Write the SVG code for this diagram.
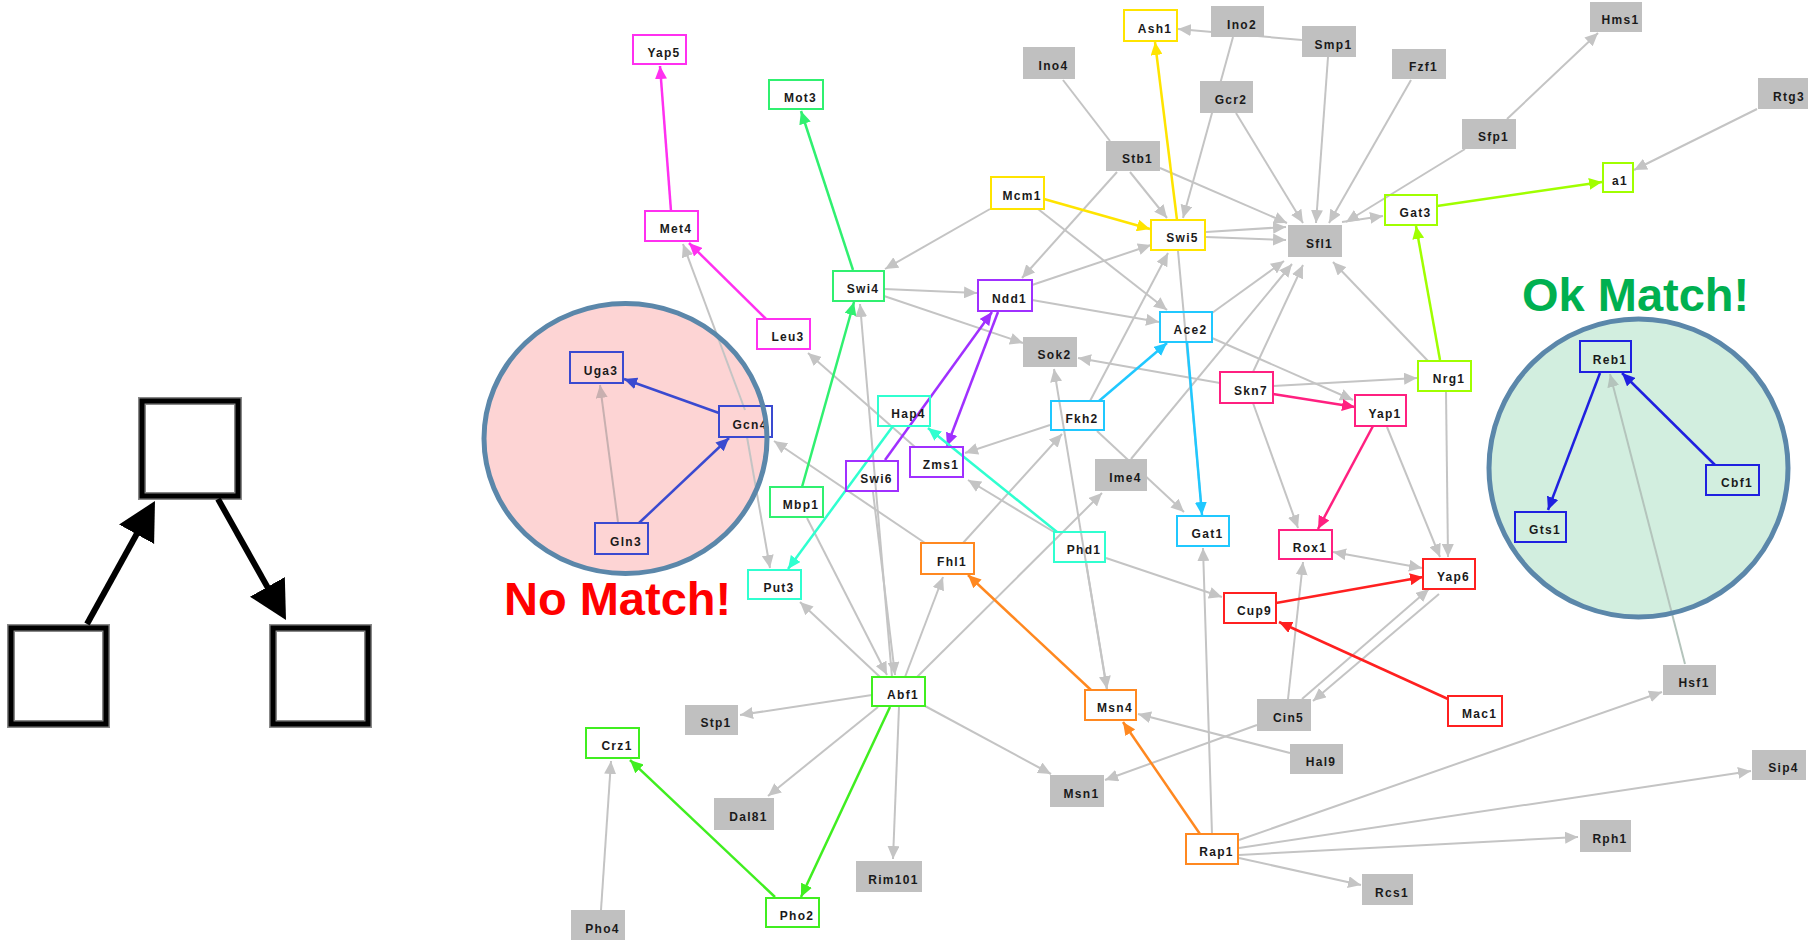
<svg xmlns="http://www.w3.org/2000/svg" width="1808" height="940" viewBox="0 0 1808 940">
<style>
.n rect{fill:none;stroke-width:2}
.g rect{fill:#c0c0c0;stroke:none}
.t{font-family:"Liberation Sans",Arial,sans-serif;font-weight:bold;font-size:12px;letter-spacing:1.3px;fill:#1a1a1a;text-anchor:middle}
.mag rect{stroke:#ff30f0}.grn rect{stroke:#30f070}.grn2 rect{stroke:#40ee20}.lim rect{stroke:#a0ff00}
.yel rect{stroke:#ffe400}.pur rect{stroke:#a030ff}.cya rect{stroke:#20c8ff}.tur rect{stroke:#30ffd0}
.pnk rect{stroke:#ff2080}.red rect{stroke:#ff2020}.ora rect{stroke:#ff8820}.bl1 rect{stroke:#3a4ad0}.bl2 rect{stroke:#2020e0}
#connectors line{fill:none}
.e{stroke:#c4c4c4;stroke-width:2;marker-end:url(#ag)}
.e2{stroke:#c4c4c4;stroke-width:2;marker-end:url(#ag);marker-start:url(#ags)}
.e0{stroke:#c4c4c4;stroke-width:2}
.ef1{stroke:#c8b0b0;stroke-width:2;marker-end:url(#af1)}
.ef2{stroke:#b4c4bc;stroke-width:2;marker-end:url(#af2)}
.em{stroke:#ff30f0;stroke-width:2.5;marker-end:url(#amag)}
.eg{stroke:#30f070;stroke-width:2.5;marker-end:url(#agrn)}
.eg2{stroke:#40ee20;stroke-width:2.5;marker-end:url(#agrn2)}
.el{stroke:#a0ff00;stroke-width:2.5;marker-end:url(#alim)}
.ey{stroke:#ffe400;stroke-width:2.5;marker-end:url(#ayel)}
.ep{stroke:#a030ff;stroke-width:2.5;marker-end:url(#apur)}
.ec{stroke:#20c8ff;stroke-width:2.5;marker-end:url(#acya)}
.et{stroke:#30ffd0;stroke-width:2.5;marker-end:url(#atur)}
.ek{stroke:#ff2080;stroke-width:2.5;marker-end:url(#apnk)}
.er{stroke:#ff2020;stroke-width:2.5;marker-end:url(#ared)}
.eo{stroke:#ff8820;stroke-width:2.5;marker-end:url(#aora)}
.eb1{stroke:#3a4ad0;stroke-width:2.5;marker-end:url(#abl1)}
.eb2{stroke:#2020e0;stroke-width:2.5;marker-end:url(#abl2)}
.lb{fill:none;stroke:#888;stroke-width:8}
.lf{fill:none;stroke:#000;stroke-width:5}
.la{stroke:#000;stroke-width:6;marker-end:url(#abig)}
.big{font-family:"Liberation Sans",Arial,sans-serif;font-weight:bold;font-size:47px}
</style>
<defs>
<marker id="ag" markerUnits="userSpaceOnUse" markerWidth="14" markerHeight="12" refX="13" refY="6" orient="auto"><path d="M0,0 L13,6 L0,12 z" fill="#c4c4c4"/></marker>
<marker id="ags" markerUnits="userSpaceOnUse" markerWidth="14" markerHeight="12" refX="13" refY="6" orient="auto-start-reverse"><path d="M0,0 L13,6 L0,12 z" fill="#c4c4c4"/></marker>
<marker id="af1" markerUnits="userSpaceOnUse" markerWidth="14" markerHeight="12" refX="13" refY="6" orient="auto"><path d="M0,0 L13,6 L0,12 z" fill="#c8b0b0"/></marker>
<marker id="af2" markerUnits="userSpaceOnUse" markerWidth="14" markerHeight="12" refX="13" refY="6" orient="auto"><path d="M0,0 L13,6 L0,12 z" fill="#b4c4bc"/></marker>
<marker id="amag" markerUnits="userSpaceOnUse" markerWidth="14" markerHeight="12" refX="13" refY="6" orient="auto"><path d="M0,0 L13,6 L0,12 z" fill="#ff30f0"/></marker>
<marker id="agrn" markerUnits="userSpaceOnUse" markerWidth="14" markerHeight="12" refX="13" refY="6" orient="auto"><path d="M0,0 L13,6 L0,12 z" fill="#30f070"/></marker>
<marker id="agrn2" markerUnits="userSpaceOnUse" markerWidth="14" markerHeight="12" refX="13" refY="6" orient="auto"><path d="M0,0 L13,6 L0,12 z" fill="#40ee20"/></marker>
<marker id="alim" markerUnits="userSpaceOnUse" markerWidth="14" markerHeight="12" refX="13" refY="6" orient="auto"><path d="M0,0 L13,6 L0,12 z" fill="#a0ff00"/></marker>
<marker id="ayel" markerUnits="userSpaceOnUse" markerWidth="14" markerHeight="12" refX="13" refY="6" orient="auto"><path d="M0,0 L13,6 L0,12 z" fill="#ffe400"/></marker>
<marker id="apur" markerUnits="userSpaceOnUse" markerWidth="14" markerHeight="12" refX="13" refY="6" orient="auto"><path d="M0,0 L13,6 L0,12 z" fill="#a030ff"/></marker>
<marker id="acya" markerUnits="userSpaceOnUse" markerWidth="14" markerHeight="12" refX="13" refY="6" orient="auto"><path d="M0,0 L13,6 L0,12 z" fill="#20c8ff"/></marker>
<marker id="atur" markerUnits="userSpaceOnUse" markerWidth="14" markerHeight="12" refX="13" refY="6" orient="auto"><path d="M0,0 L13,6 L0,12 z" fill="#30ffd0"/></marker>
<marker id="apnk" markerUnits="userSpaceOnUse" markerWidth="14" markerHeight="12" refX="13" refY="6" orient="auto"><path d="M0,0 L13,6 L0,12 z" fill="#ff2080"/></marker>
<marker id="ared" markerUnits="userSpaceOnUse" markerWidth="14" markerHeight="12" refX="13" refY="6" orient="auto"><path d="M0,0 L13,6 L0,12 z" fill="#ff2020"/></marker>
<marker id="aora" markerUnits="userSpaceOnUse" markerWidth="14" markerHeight="12" refX="13" refY="6" orient="auto"><path d="M0,0 L13,6 L0,12 z" fill="#ff8820"/></marker>
<marker id="abl1" markerUnits="userSpaceOnUse" markerWidth="14" markerHeight="12" refX="13" refY="6" orient="auto"><path d="M0,0 L13,6 L0,12 z" fill="#3a4ad0"/></marker>
<marker id="abl2" markerUnits="userSpaceOnUse" markerWidth="14" markerHeight="12" refX="13" refY="6" orient="auto"><path d="M0,0 L13,6 L0,12 z" fill="#2020e0"/></marker>
<marker id="abig" markerUnits="userSpaceOnUse" markerWidth="40" markerHeight="42" refX="18" refY="20" orient="auto"><path d="M0,0 L38,20 L0,40 z" fill="#000"/></marker>
</defs>
<rect width="1808" height="940" fill="#fff"/>

<g id="motif-legend">
<rect class="lb" x="142" y="401" width="96" height="95"/><rect class="lf" x="142" y="401" width="96" height="95"/>
<rect class="lb" x="11" y="628" width="95" height="96"/><rect class="lf" x="11" y="628" width="95" height="96"/>
<rect class="lb" x="273" y="628" width="95" height="96"/><rect class="lf" x="273" y="628" width="95" height="96"/>
<line class="la" x1="87" y1="624" x2="145.3" y2="518.5"/>
<line class="la" x1="218" y1="499" x2="276.2" y2="602.6"/>
</g>

<g id="no-match-area"><ellipse cx="625.5" cy="438.5" rx="141.5" ry="135" fill="#fdd4d4"/></g>
<g id="ok-match-area"><ellipse cx="1638.5" cy="468" rx="149.5" ry="149" fill="#d2eedf"/></g>

<g id="connectors">
<line class="e" x1="990" y1="209" x2="885" y2="269"/>
<line class="e" x1="884" y1="289" x2="977" y2="293"/>
<line class="e" x1="884" y1="296" x2="1023" y2="343"/>
<line class="e" x1="1117" y1="172" x2="1022" y2="278"/>
<line class="e" x1="1130" y1="172" x2="1167" y2="218"/>
<line class="e" x1="1160" y1="168" x2="1287" y2="223"/>
<line class="e0" x1="1063" y1="80" x2="1110" y2="141"/>
<line class="e" x1="1302" y1="40" x2="1178" y2="29"/>
<line class="e" x1="1233" y1="37" x2="1183" y2="218"/>
<line class="e" x1="1236" y1="113" x2="1303" y2="223"/>
<line class="e" x1="1328" y1="57" x2="1316" y2="223"/>
<line class="e" x1="1411" y1="80" x2="1329" y2="223"/>
<line class="e" x1="1465" y1="149" x2="1346" y2="222"/>
<line class="e" x1="1342" y1="222" x2="1383" y2="216"/>
<line class="e" x1="1507" y1="119" x2="1598" y2="33"/>
<line class="e" x1="1757" y1="109" x2="1634" y2="170"/>
<line class="e" x1="1206" y1="232" x2="1286" y2="227"/>
<line class="e" x1="1206" y1="237" x2="1286" y2="240"/>
<line class="e" x1="1032" y1="285" x2="1151" y2="245"/>
<line class="e" x1="1032" y1="300" x2="1159" y2="322"/>
<line class="e" x1="1038" y1="209" x2="1167" y2="310"/>
<line class="e0" x1="1178" y1="251" x2="1202" y2="513"/>
<line class="e" x1="1212" y1="313" x2="1284" y2="261"/>
<line class="e" x1="1090" y1="401" x2="1168" y2="253"/>
<line class="e" x1="1131" y1="459" x2="1292" y2="264"/>
<line class="e" x1="1097" y1="431" x2="1184" y2="512"/>
<line class="e" x1="1220" y1="383" x2="1078" y2="358"/>
<line class="e" x1="1273" y1="386" x2="1417" y2="378"/>
<line class="e" x1="1212" y1="338" x2="1353" y2="400"/>
<line class="e" x1="1253" y1="403" x2="1298" y2="528"/>
<line class="e" x1="1253" y1="372" x2="1303" y2="265"/>
<line class="e" x1="1428" y1="361" x2="1333" y2="262"/>
<line class="e" x1="1446" y1="391" x2="1448" y2="557"/>
<line class="e" x1="1387" y1="427" x2="1440" y2="557"/>
<line class="e2" x1="1333" y1="552" x2="1422" y2="568"/>
<line class="e" x1="1302" y1="699" x2="1429" y2="589"/>
<line class="e" x1="1439" y1="594" x2="1313" y2="701"/>
<line class="e" x1="1288" y1="699" x2="1303" y2="562"/>
<line class="e" x1="1257" y1="725" x2="1105" y2="780"/>
<line class="e" x1="1290" y1="753" x2="1138" y2="714"/>
<line class="e" x1="925" y1="706" x2="1051" y2="774"/>
<line class="e" x1="1086" y1="562" x2="1107" y2="689"/>
<line class="e" x1="1107" y1="690" x2="1054" y2="369"/>
<line class="e" x1="1050" y1="425" x2="965" y2="453"/>
<line class="e" x1="1054" y1="532" x2="968" y2="480"/>
<line class="e" x1="917" y1="677" x2="1102" y2="493"/>
<line class="e" x1="1106" y1="558" x2="1222" y2="597"/>
<line class="e" x1="963" y1="543" x2="1062" y2="434"/>
<line class="e" x1="905" y1="677" x2="943" y2="577"/>
<line class="e" x1="925" y1="543" x2="774" y2="441"/>
<line class="e" x1="873" y1="492" x2="895" y2="675"/>
<line class="e" x1="892" y1="677" x2="860" y2="304"/>
<line class="e" x1="807" y1="518" x2="887" y2="675"/>
<line class="e" x1="880" y1="677" x2="800" y2="602"/>
<line class="e" x1="872" y1="695" x2="740" y2="715"/>
<line class="e" x1="878" y1="707" x2="768" y2="796"/>
<line class="e" x1="899" y1="707" x2="893" y2="859"/>
<line class="e" x1="601" y1="910" x2="611" y2="761"/>
<line class="e" x1="745" y1="410" x2="683" y2="244"/>
<line class="e" x1="747" y1="437" x2="770" y2="568"/>
<line class="e" x1="915" y1="447" x2="808" y2="353"/>
<line class="e" x1="1212" y1="834" x2="1203" y2="548"/>
<line class="e" x1="1239" y1="840" x2="1662" y2="692"/>
<line class="e" x1="1239" y1="848" x2="1751" y2="771"/>
<line class="e" x1="1239" y1="855" x2="1578" y2="837"/>
<line class="e" x1="1239" y1="858" x2="1361" y2="885"/>
<line class="ef1" x1="618" y1="522" x2="600" y2="385"/>
<line class="ef2" x1="1685" y1="664" x2="1610" y2="374"/>
<line class="em" x1="671" y1="211" x2="660" y2="66"/>
<line class="em" x1="766" y1="319" x2="689" y2="243"/>
<line class="eg" x1="853" y1="270" x2="801" y2="111"/>
<line class="ey" x1="1044" y1="199" x2="1150" y2="229"/>
<line class="ey" x1="1177" y1="220" x2="1155" y2="42"/>
<line class="el" x1="1437" y1="206" x2="1602" y2="182"/>
<line class="el" x1="1440" y1="360" x2="1416" y2="226"/>
<line class="eb1" x1="639" y1="523" x2="729" y2="438"/>
<line class="eb1" x1="719" y1="413" x2="624" y2="379"/>
<line class="eg" x1="802" y1="487" x2="854" y2="302"/>
<line class="et" x1="893" y1="426" x2="788" y2="569"/>
<line class="ep" x1="885" y1="460" x2="992" y2="312"/>
<line class="ep" x1="998" y1="312" x2="947" y2="446"/>
<line class="et" x1="1057" y1="532" x2="928" y2="428"/>
<line class="ec" x1="1099" y1="401" x2="1167" y2="343"/>
<line class="ec" x1="1187" y1="342" x2="1202" y2="515"/>
<line class="ek" x1="1273" y1="394" x2="1355" y2="407"/>
<line class="ek" x1="1373" y1="426" x2="1318" y2="529"/>
<line class="er" x1="1276" y1="603" x2="1423" y2="577"/>
<line class="er" x1="1448" y1="699" x2="1279" y2="622"/>
<line class="eo" x1="1091" y1="690" x2="968" y2="575"/>
<line class="eo" x1="1200" y1="834" x2="1123" y2="722"/>
<line class="eg2" x1="890" y1="707" x2="801" y2="897"/>
<line class="eg2" x1="775" y1="897" x2="630" y2="760"/>
<line class="eb2" x1="1600" y1="373" x2="1548" y2="510"/>
<line class="eb2" x1="1715" y1="465" x2="1622" y2="373"/>
</g>

<g id="n-Yap5" class="n mag"><rect x="633" y="35" width="53" height="29"/><text class="t" x="664" y="56.5">Yap5</text></g>
<g id="n-Mot3" class="n grn"><rect x="769" y="80" width="54" height="29"/><text class="t" x="800.5" y="101.5">Mot3</text></g>
<g id="n-Met4" class="n mag"><rect x="645" y="211" width="53" height="30"/><text class="t" x="676" y="233">Met4</text></g>
<g id="n-Swi4" class="n grn"><rect x="833" y="271" width="51" height="30"/><text class="t" x="863" y="293">Swi4</text></g>
<g id="n-Ash1" class="n yel"><rect x="1124" y="10" width="53" height="31"/><text class="t" x="1155" y="32.5">Ash1</text></g>
<g id="n-Mcm1" class="n yel"><rect x="991" y="177" width="53" height="32"/><text class="t" x="1022" y="200">Mcm1</text></g>
<g id="n-Swi5" class="n yel"><rect x="1151" y="220" width="54" height="30"/><text class="t" x="1182.5" y="242">Swi5</text></g>
<g id="n-Ndd1" class="n pur"><rect x="978" y="280" width="54" height="31"/><text class="t" x="1009.5" y="302.5">Ndd1</text></g>
<g id="n-a1" class="n lim"><rect x="1603" y="163" width="30" height="29"/><text class="t" x="1620" y="184.5">a1</text></g>
<g id="n-Gat3" class="n lim"><rect x="1385" y="195" width="52" height="30"/><text class="t" x="1415.5" y="217">Gat3</text></g>
<g id="n-Uga3" class="n bl1"><rect x="570" y="352" width="53" height="31"/><text class="t" x="601" y="374.5">Uga3</text></g>
<g id="n-Gcn4" class="n bl1"><rect x="719" y="406" width="53" height="31"/><text class="t" x="750" y="428.5">Gcn4</text></g>
<g id="n-Gln3" class="n bl1"><rect x="595" y="523" width="53" height="31"/><text class="t" x="626" y="545.5">Gln3</text></g>
<g id="n-Leu3" class="n mag"><rect x="757" y="319" width="53" height="30"/><text class="t" x="788" y="341">Leu3</text></g>
<g id="n-Hap4" class="n tur"><rect x="878" y="396" width="52" height="30"/><text class="t" x="908.5" y="418">Hap4</text></g>
<g id="n-Swi6" class="n pur"><rect x="846" y="461" width="52" height="30"/><text class="t" x="876.5" y="483">Swi6</text></g>
<g id="n-Mbp1" class="n grn"><rect x="770" y="487" width="53" height="30"/><text class="t" x="801" y="509">Mbp1</text></g>
<g id="n-Put3" class="n tur"><rect x="748" y="570" width="53" height="29"/><text class="t" x="779" y="591.5">Put3</text></g>
<g id="n-Ace2" class="n cya"><rect x="1160" y="312" width="52" height="30"/><text class="t" x="1190.5" y="334">Ace2</text></g>
<g id="n-Skn7" class="n pnk"><rect x="1220" y="372" width="53" height="31"/><text class="t" x="1251" y="394.5">Skn7</text></g>
<g id="n-Fkh2" class="n cya"><rect x="1051" y="401" width="53" height="29"/><text class="t" x="1082" y="422.5">Fkh2</text></g>
<g id="n-Zms1" class="n pur"><rect x="910" y="447" width="53" height="30"/><text class="t" x="941" y="469">Zms1</text></g>
<g id="n-Gat1" class="n cya"><rect x="1177" y="516" width="52" height="30"/><text class="t" x="1207.5" y="538">Gat1</text></g>
<g id="n-Rox1" class="n pnk"><rect x="1279" y="530" width="53" height="29"/><text class="t" x="1310" y="551.5">Rox1</text></g>
<g id="n-Phd1" class="n tur"><rect x="1054" y="532" width="51" height="30"/><text class="t" x="1084" y="554">Phd1</text></g>
<g id="n-Fhl1" class="n ora"><rect x="921" y="543" width="53" height="31"/><text class="t" x="952" y="565.5">Fhl1</text></g>
<g id="n-Cup9" class="n red"><rect x="1224" y="593" width="52" height="30"/><text class="t" x="1254.5" y="615">Cup9</text></g>
<g id="n-Nrg1" class="n lim"><rect x="1418" y="361" width="53" height="30"/><text class="t" x="1449" y="383">Nrg1</text></g>
<g id="n-Yap1" class="n pnk"><rect x="1355" y="395" width="51" height="31"/><text class="t" x="1385" y="417.5">Yap1</text></g>
<g id="n-Reb1" class="n bl2"><rect x="1580" y="341" width="51" height="31"/><text class="t" x="1610" y="363.5">Reb1</text></g>
<g id="n-Cbf1" class="n bl2"><rect x="1706" y="465" width="53" height="30"/><text class="t" x="1737" y="487">Cbf1</text></g>
<g id="n-Gts1" class="n bl2"><rect x="1515" y="512" width="51" height="30"/><text class="t" x="1545" y="534">Gts1</text></g>
<g id="n-Yap6" class="n red"><rect x="1423" y="559" width="52" height="30"/><text class="t" x="1453.5" y="581">Yap6</text></g>
<g id="n-Abf1" class="n grn2"><rect x="872" y="677" width="53" height="29"/><text class="t" x="903" y="698.5">Abf1</text></g>
<g id="n-Crz1" class="n grn2"><rect x="586" y="728" width="53" height="30"/><text class="t" x="617" y="750">Crz1</text></g>
<g id="n-Pho2" class="n grn2"><rect x="766" y="898" width="53" height="29"/><text class="t" x="797" y="919.5">Pho2</text></g>
<g id="n-Msn4" class="n ora"><rect x="1085" y="690" width="51" height="30"/><text class="t" x="1115" y="712">Msn4</text></g>
<g id="n-Rap1" class="n ora"><rect x="1186" y="834" width="52" height="30"/><text class="t" x="1216.5" y="856">Rap1</text></g>
<g id="n-Mac1" class="n red"><rect x="1448" y="696" width="54" height="30"/><text class="t" x="1479.5" y="718">Mac1</text></g>

<g id="n-Ino2" class="g"><rect x="1211" y="6" width="53" height="31"/><text class="t" x="1242" y="28.5">Ino2</text></g>
<g id="n-Smp1" class="g"><rect x="1302" y="26" width="54" height="31"/><text class="t" x="1333.5" y="48.5">Smp1</text></g>
<g id="n-Ino4" class="g"><rect x="1023" y="47" width="52" height="32"/><text class="t" x="1053.5" y="70">Ino4</text></g>
<g id="n-Gcr2" class="g"><rect x="1200" y="81" width="53" height="32"/><text class="t" x="1231" y="104">Gcr2</text></g>
<g id="n-Stb1" class="g"><rect x="1106" y="141" width="54" height="30"/><text class="t" x="1137.5" y="163">Stb1</text></g>
<g id="n-Sfl1" class="g"><rect x="1288" y="225" width="54" height="32"/><text class="t" x="1319.5" y="248">Sfl1</text></g>
<g id="n-Hms1" class="g"><rect x="1590" y="2" width="52" height="30"/><text class="t" x="1620.5" y="24">Hms1</text></g>
<g id="n-Fzf1" class="g"><rect x="1392" y="49" width="54" height="30"/><text class="t" x="1423.5" y="71">Fzf1</text></g>
<g id="n-Sfp1" class="g"><rect x="1462" y="119" width="54" height="30"/><text class="t" x="1493.5" y="141">Sfp1</text></g>
<g id="n-Rtg3" class="g"><rect x="1758" y="78" width="53" height="31"/><text class="t" x="1789" y="100.5">Rtg3</text></g>
<g id="n-Sok2" class="g"><rect x="1023" y="337" width="54" height="30"/><text class="t" x="1054.5" y="359">Sok2</text></g>
<g id="n-Ime4" class="g"><rect x="1095" y="459" width="52" height="32"/><text class="t" x="1125.5" y="482">Ime4</text></g>
<g id="n-Stp1" class="g"><rect x="685" y="705" width="53" height="30"/><text class="t" x="716" y="727">Stp1</text></g>
<g id="n-Dal81" class="g"><rect x="714" y="798" width="60" height="32"/><text class="t" x="748.5" y="821">Dal81</text></g>
<g id="n-Rim101" class="g"><rect x="856" y="861" width="66" height="31"/><text class="t" x="893.5" y="883.5">Rim101</text></g>
<g id="n-Pho4" class="g"><rect x="571" y="910" width="54" height="32"/><text class="t" x="602.5" y="933">Pho4</text></g>
<g id="n-Msn1" class="g"><rect x="1050" y="775" width="54" height="32"/><text class="t" x="1081.5" y="798">Msn1</text></g>
<g id="n-Cin5" class="g"><rect x="1257" y="699" width="54" height="32"/><text class="t" x="1288.5" y="722">Cin5</text></g>
<g id="n-Hal9" class="g"><rect x="1290" y="744" width="53" height="30"/><text class="t" x="1321" y="766">Hal9</text></g>
<g id="n-Hsf1" class="g"><rect x="1663" y="665" width="53" height="30"/><text class="t" x="1694" y="687">Hsf1</text></g>
<g id="n-Sip4" class="g"><rect x="1752" y="750" width="54" height="30"/><text class="t" x="1783.5" y="772">Sip4</text></g>
<g id="n-Rph1" class="g"><rect x="1580" y="820" width="51" height="32"/><text class="t" x="1610" y="843">Rph1</text></g>
<g id="n-Rcs1" class="g"><rect x="1362" y="874" width="51" height="31"/><text class="t" x="1392" y="896.5">Rcs1</text></g>

<g id="annotations">
<ellipse cx="625.5" cy="438.5" rx="141.5" ry="135" fill="none" stroke="#5b87aa" stroke-width="5"/>
<ellipse cx="1638.5" cy="468" rx="149.5" ry="149" fill="none" stroke="#5b87aa" stroke-width="5"/>
<text class="big" x="504" y="615" fill="#ff0000">No Match!</text>
<text class="big" x="1522" y="311" fill="#00b050">Ok Match!</text>
</g>
</svg>
